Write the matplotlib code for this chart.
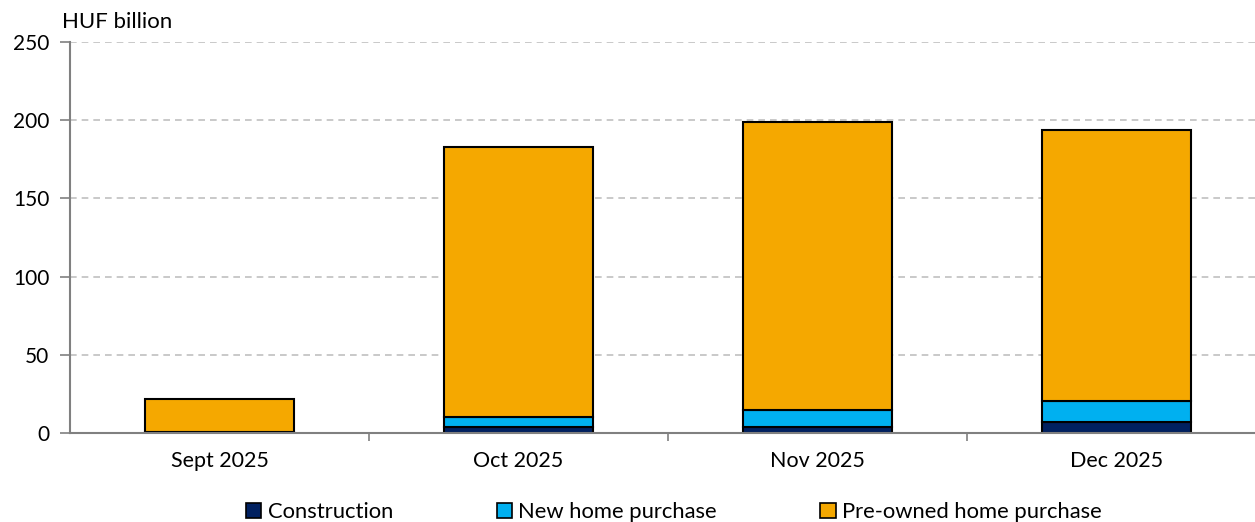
import matplotlib
matplotlib.use("Agg")
import matplotlib.pyplot as plt
import numpy as np
from matplotlib.patches import Patch

# Loan disbursements by purpose, HUF billion
months = ["Sept 2025", "Oct 2025", "Nov 2025", "Dec 2025"]
construction = [0.3, 3.6, 3.8, 6.8]
new_home = [0.4, 6.8, 11.0, 13.9]
pre_owned = [21.2, 172.6, 184.0, 173.0]

series_names = ["Construction", "New home purchase", "Pre-owned home purchase"]
colors = ["#002060", "#00B0F0", "#F5A800"]

plt.rcParams["font.family"] = ["Lato", "DejaVu Sans"]

fig = plt.figure(figsize=(12.55, 5.22), dpi=100)
ax = fig.add_axes([70 / 1255, 1 - 433 / 522, 1196 / 1255, 391 / 522])

x = np.arange(len(months))
bottom = np.zeros(len(months))
for vals, name, col in zip([construction, new_home, pre_owned], series_names, colors):
    ax.bar(x, vals, width=0.5, bottom=bottom, color=col, edgecolor="black",
           linewidth=1.5, label=name, zorder=3)
    bottom += np.array(vals)

ax.set_xlim(-0.5, len(months) - 0.5)
ax.set_ylim(0, 250)
ax.set_yticks(np.arange(0, 251, 50))
ax.set_xticks(x)
ax.set_xticklabels(months)
ax.set_xticks(np.arange(0.5, len(months) - 0.5, 1), minor=True)
ax.tick_params(axis="x", which="major", length=0, pad=13, labelsize=15.5)
ax.tick_params(axis="x", which="minor", length=6, width=1.2, color="#808080")
ax.tick_params(axis="y", length=7, width=1.2, color="#808080", labelsize=15, pad=8)

ax.yaxis.grid(True, linestyle=(0, (4, 3)), color="#C0C0C0", linewidth=1.2, zorder=0)
for side in ["top", "right"]:
    ax.spines[side].set_visible(False)
for side in ["left", "bottom"]:
    ax.spines[side].set_color("#808080")
    ax.spines[side].set_linewidth(1.5)
ax.spines["bottom"].set_zorder(4)

fig.text(62 / 1255, 1 - 22 / 522, "HUF billion", fontsize=16, va="center", ha="left")

handles = [Patch(facecolor=c, edgecolor="black", linewidth=1.2) for c in colors]
fig.legend(handles, series_names, loc="center", bbox_to_anchor=(674 / 1255, 1 - 512 / 522),
           ncol=3, frameon=False, fontsize=15.8, handlelength=0.7, handleheight=0.7,
           handletextpad=0.3, columnspacing=4.7)

fig.savefig("out.png", dpi=100)
